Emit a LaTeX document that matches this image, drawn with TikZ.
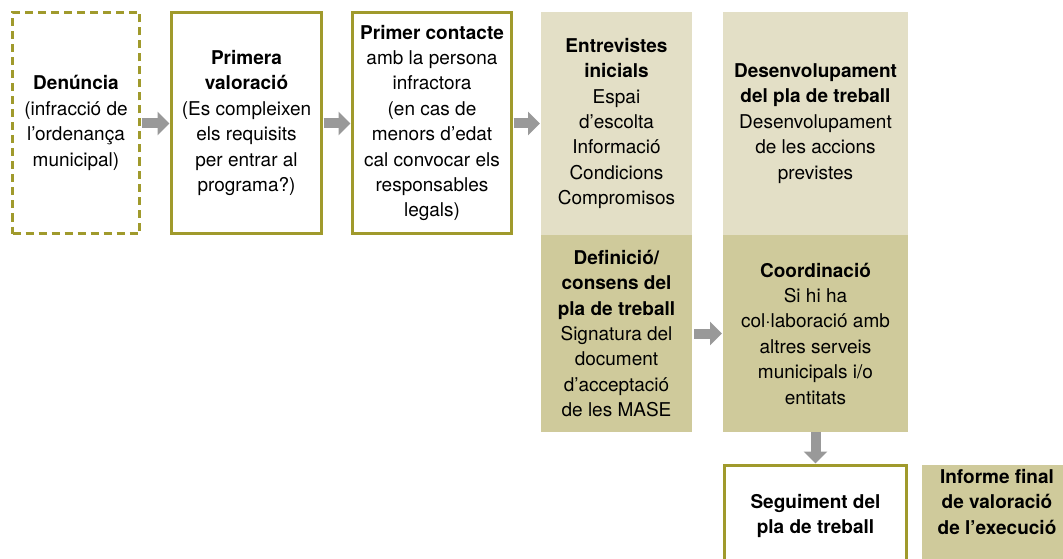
\documentclass[tikz,border=0pt]{standalone}
\usepackage{fontspec}
\setmainfont{TeX Gyre Heros}
\usetikzlibrary{arrows.meta}
\definecolor{olive}{RGB}{160,154,44}
\definecolor{lightfill}{RGB}{227,223,198}
\definecolor{darkfill}{RGB}{207,202,155}
\definecolor{arrowgray}{RGB}{153,153,153}
\tikzset{
  txt/.style={align=center, font=\fontsize{19}{25.4}\selectfont, text=black, inner sep=0pt},
  stagebox/.style={txt, draw=olive, line width=3pt, fill=white, rectangle},
  dashbox/.style={stagebox, dash pattern=on 8pt off 5pt},
  lightbox/.style={txt, fill=lightfill, outer sep=0pt},
  darkbox/.style={txt, fill=darkfill, outer sep=0pt},
  flow/.style={draw=arrowgray, line width=10pt, -{Triangle[width=23pt,length=12pt]}}
}
\begin{document}
\begin{tikzpicture}[x=1pt,y=-1pt]
\path[use as bounding box] (0,0) rectangle (1063,559);
\clip (0,0) rectangle (1063,559);
\fill[white] (0,0) rectangle (1063,559);

\node[dashbox, minimum width=127pt, minimum height=221pt] (den) at (76,123)
  {\textbf{Denúncia}\\(infracció de\\l’ordenança\\municipal)};
\node[stagebox, minimum width=150pt, minimum height=221pt] (val) at (246.5,123)
  {\textbf{Primera}\\\textbf{valoració}\\(Es compleixen\\els requisits\\per entrar al\\programa?)};
\node[stagebox, minimum width=159pt, minimum height=221pt] (con) at (432,123)
  {\textbf{Primer contacte}\\amb la persona\\infractora\\(en cas de\\menors d’edat\\cal convocar els\\responsables\\legals)};

\node[lightbox, minimum width=151pt, minimum height=223pt] (ent) at (616.5,123.5)
  {\textbf{Entrevistes}\\\textbf{inicials}\\Espai\\d’escolta\\Informació\\Condicions\\Compromisos};
\node[darkbox, minimum width=151pt, minimum height=197pt] (def) at (616.5,333.5)
  {\textbf{Definició/}\\\textbf{consens del}\\\textbf{pla de treball}\\Signatura del\\document\\d’acceptació\\de les MASE};
\node[lightbox, minimum width=185pt, minimum height=223pt] (des) at (815.5,123.5)
  {\textbf{Desenvolupament}\\\textbf{del pla de treball}\\Desenvolupament\\de les accions\\previstes};
\node[darkbox, minimum width=185pt, minimum height=197pt] (coo) at (815.5,333.5)
  {\textbf{Coordinació}\\Si hi ha\\col·laboració amb\\altres serveis\\municipals i/o\\entitats};

\node[stagebox, minimum width=182pt, minimum height=101pt] (seg) at (815.5,516)
  {\textbf{Seguiment del}\\\textbf{pla de treball}};

\fill[darkfill] (922,465) rectangle (1070,570);
\node[txt] (inf) at (997,502)
  {\textbf{Informe final}\\\textbf{de valoració}\\\textbf{de l’execució}};

\draw[flow, shorten <=0.5pt, shorten >=0.5pt] (den.east |- 0,123.5) -- (val.west |- 0,123.5);
\draw[flow, shorten <=0.5pt, shorten >=0.5pt] (val.east |- 0,123.5) -- (con.west |- 0,123.5);
\draw[flow, shorten <=0.5pt, shorten >=1pt] (con.east |- 0,123.5) -- (ent.west |- 0,123.5);
\draw[flow, shorten <=2pt, shorten >=1pt] (def.east) -- (coo.west);
\draw[flow, shorten >=0.5pt] (coo.south) -- (seg.north);
\end{tikzpicture}
\end{document}
